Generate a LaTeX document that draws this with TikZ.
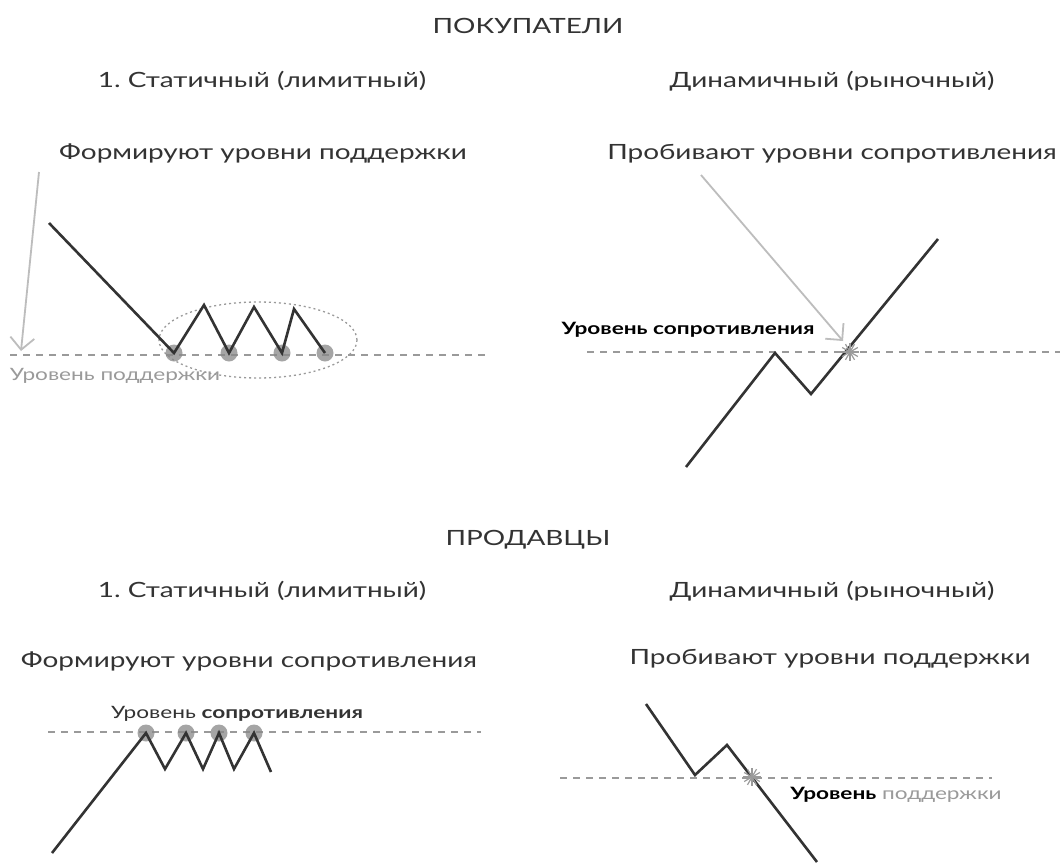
\documentclass[tikz,border=0pt]{standalone}
\usepackage{fontspec}
\setmainfont{Lato}[FakeStretch=1.33]
\usetikzlibrary{arrows.meta}
\frenchspacing
\definecolor{ink}{HTML}{333333}
\definecolor{lvl}{HTML}{9A9A9A}
\definecolor{arr}{HTML}{BDBDBD}
\definecolor{dotc}{HTML}{888888}
\tikzset{
  head/.style={anchor=base,inner sep=0pt,font=\fontsize{21}{25}\selectfont,text=ink},
  lbl/.style={anchor=base,inner sep=0pt,font=\fontsize{17}{20}\selectfont},
  price/.style={draw=ink,line width=2.6pt,line join=miter,line cap=butt},
  level/.style={draw=lvl,line width=2pt,dash pattern=on 7pt off 6pt},
  pointer/.style={draw=arr,line width=1.8pt,-{Straight Barb[length=12pt,width=24pt,line width=1.8pt]}},
  touch/.style={circle,fill=dotc,fill opacity=0.75,minimum size=17pt,inner sep=0pt},
  burst/.style={draw=lvl,line width=1.2pt}
}
\newcommand{\starburst}[1]{%
  \foreach \a in {0,30,...,330}{\draw[burst] (#1) -- ++(\a:9pt);}}
\begin{document}
\begin{tikzpicture}[x=1pt,y=-1pt]
\useasboundingbox[fill=white] (0,0) rectangle (1060,862);

% ---------- headings ----------
\node[head] (buy) at (528,33) {ПОКУПАТЕЛИ};
\node[head] (bst) at (262,87) {1. Статичный (лимитный)};
\node[head] (bdy) at (832,87) {Динамичный (рыночный)};
\node[head] (bform) at (263,159) {Формируют уровни поддержки};
\node[head] (bbrk) at (832,159) {Пробивают уровни сопротивления};

\node[head] (sell) at (528,545) {ПРОДАВЦЫ};
\node[head] (sst) at (262,597) {1. Статичный (лимитный)};
\node[head] (sdy) at (832,597) {Динамичный (рыночный)};
\node[head] (sform) at (249,667) {Формируют уровни сопротивления};
\node[head] (sbrk) at (830,664) {Пробивают уровни поддержки};

% ---------- top left ----------
\coordinate (tlA) at (10,355);
\coordinate (tlB) at (490,355);
\draw[level] (tlA) -- (tlB);
\draw[lvl,line width=1.3pt,dash pattern=on 2pt off 3pt] (258,340) ellipse [x radius=99pt,y radius=38pt];
\node[touch] (t1) at (174,353) {};
\node[touch] (t2) at (229,353) {};
\node[touch] (t3) at (282,353) {};
\node[touch] (t4) at (325,353) {};
\coordinate (p0) at (49,223);
\coordinate (p1) at (204,305);
\coordinate (p2) at (254,307);
\coordinate (p3) at (294,309);
\draw[price] (p0) -- (t1.center) -- (p1) -- (t2.center) -- (p2) -- (t3.center) -- (p3) -- (t4.center);
\coordinate (tlArrS) at (39,172);
\coordinate (tlArrE) at (21,351);
\draw[pointer] (tlArrS) -- (tlArrE);
\node[lbl,text=lvl] (tlLbl) at (115,380) {Уровень поддержки};

% ---------- top right ----------
\coordinate (trA) at (587,352);
\coordinate (trB) at (1060,352);
\draw[level] (trA) -- (trB);
\coordinate (q0) at (686,467);
\coordinate (q1) at (775,353);
\coordinate (q2) at (811,394);
\coordinate (q3) at (938,239);
\draw[price] (q0) -- (q1) -- (q2) -- (q3);
\coordinate (trX) at (850,352);
\starburst{trX}
\coordinate (trArrS) at (701,175);
\coordinate (trArrE) at (843,341);
\draw[pointer] (trArrS) -- (trArrE);
\node[lbl,font=\fontsize{17}{20}\selectfont\bfseries,text=black] (trLbl) at (688,334) {Уровень сопротивления};

% ---------- bottom left ----------
\coordinate (blA) at (48,732);
\coordinate (blB) at (481,732);
\draw[level] (blA) -- (blB);
\node[touch] (u1) at (146,733) {};
\node[touch] (u2) at (186,733) {};
\node[touch] (u3) at (219,733) {};
\node[touch] (u4) at (254,733) {};
\coordinate (r0) at (52,853);
\coordinate (r1) at (165,769);
\coordinate (r2) at (203,769);
\coordinate (r3) at (234,769);
\coordinate (r4) at (271,772);
\draw[price] (r0) -- (u1.center) -- (r1) -- (u2.center) -- (r2) -- (u3.center) -- (r3) -- (u4.center) -- (r4);
\node[lbl,text=ink] (blLbl) at (237,718) {Уровень \textbf{сопротивления}};

% ---------- bottom right ----------
\coordinate (brA) at (560,778);
\coordinate (brB) at (992,778);
\draw[level] (brA) -- (brB);
\coordinate (s0) at (646,704);
\coordinate (s1) at (695,775);
\coordinate (s2) at (727,745);
\coordinate (s3) at (817,862);
\draw[price] (s0) -- (s1) -- (s2) -- (s3);
\coordinate (brX) at (752,777);
\starburst{brX}
\node[lbl,text=lvl] (brLbl) at (896,799) {\textcolor{black}{\bfseries Уровень} поддержки};
\end{tikzpicture}
\end{document}
